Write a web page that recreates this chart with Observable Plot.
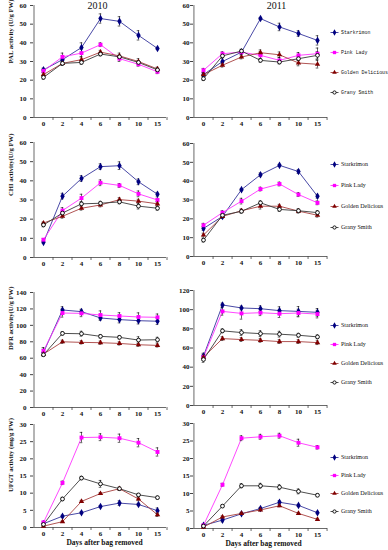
<!DOCTYPE html>
<html><head><meta charset="utf-8">
<script src="https://cdn.jsdelivr.net/npm/d3@7"></script>
<script src="https://cdn.jsdelivr.net/npm/@observablehq/plot@0.6"></script>
<style>
html,body{margin:0;padding:0;background:#fff;}
#chart{position:relative;width:388px;height:550px;overflow:hidden;background:#fff;}
.panel{position:absolute;}
</style></head><body><div id="chart"></div>
<script>
// ---- categories ----
const days = ["0","2","4","6","8","10","15"];
const cultivars = ["Starkrimon","Pink Lady","Golden Delicious","Grany Smith"];
const xTitleText = "Days after bag removed";

// ---- tick values ----
const palTicks = [0,10,20,30,40,50,60];
const chiTicks = [0,10,20,30,40,50,60];
const dfrTicks2010 = [0,20,40,60,80,100,120,140];
const dfrTicks2011 = [0,20,40,60,80,100,120];
const ufgtTicks = [0,5,10,15,20,25,30];

// ---- values (rows: Starkrimon, Pink Lady, Golden Delicious, Grany Smith) ----
const pal2010 = [
  [25.5, 31, 37.5, 53, 51.5, 44, 37],
  [25, 32.5, 34.5, 39, 31.5, 28.5, 24.5],
  [23, 29, 31, 35, 33, 30, 26],
  [21.5, 29, 29.5, 34, 32.5, 29.5, 25.5]];
const palErr2010 = [
  [1, 2, 2.5, 2.5, 2.5, 2.5, 0.5],
  [1, 2, 2, 1, 1.5, 1, 1],
  [1, 1, 1.5, 1, 1.5, 1.5, 1],
  [1, 1, 1, 1, 1, 1, 1]];
const pal2011 = [
  [23, 30, 35, 53, 48.5, 45, 41.3],
  [25.3, 34.2, 35, 33.3, 30.6, 33.3, 34.2],
  [23, 28, 32.4, 34.7, 33.6, 29.2, 28.5],
  [20.8, 33, 35.6, 30.6, 29.7, 31.5, 33.3]];
const palErr2011 = [
  [1, 1.5, 1, 0.5, 2, 1.5, 2.5],
  [1, 1, 1, 2, 1.5, 1.5, 3],
  [1, 1, 1, 1.5, 1.5, 1.5, 2],
  [1, 1, 1, 1, 1, 1, 2]];
const chi2010 = [
  [7.9, 32, 41.2, 47.4, 47.9, 39.5, 33],
  [9.3, 24.5, 31, 39, 37.6, 33.2, 30],
  [18, 21.5, 25.7, 27.4, 30.2, 29.4, 28],
  [17, 23.2, 28, 28.3, 29, 26.8, 25.7]];
const chiErr2010 = [
  [0.5, 1.5, 1.5, 1.5, 2, 1.5, 1],
  [0.5, 1.5, 2, 1.5, 1, 1.5, 1],
  [0.5, 1, 1, 1, 1, 1, 1],
  [1, 1, 1, 1, 1, 1.5, 1]];
const chi2011 = [
  [14.9, 21.3, 35.5, 43.4, 48.4, 45.1, 32],
  [16.6, 23.3, 29.4, 35.8, 38.5, 32.9, 28.5],
  [11.4, 21.3, 24.3, 26.7, 26.7, 24.1, 21.9],
  [8.7, 21.9, 24, 28.5, 25, 24.3, 23.3]];
const chiErr2011 = [
  [1, 1, 0.5, 1, 0.5, 1, 1],
  [1, 1, 1.5, 1, 1, 1, 1],
  [1, 1, 1, 1.5, 1, 1, 1],
  [1, 1, 1, 1, 1, 1, 1]];
const dfr2010 = [
  [67, 118.7, 116.7, 109, 107, 105.7, 105],
  [69, 115, 114.6, 112.6, 111.4, 110.2, 109.8],
  [65, 80, 79.3, 78.9, 78, 76.4, 75.6],
  [64.2, 90.2, 89.8, 86.6, 85.4, 82.1, 82.5]];
const dfrErr2010 = [
  [4, 4, 3, 3, 4, 4, 4],
  [4, 5, 4, 5, 4, 5, 4],
  [2, 2, 2, 2, 2, 2, 2],
  [2, 2, 3, 2, 2, 4, 3]];
const dfr2011 = [
  [51.6, 104.9, 101.8, 101, 99, 98.2, 97.2],
  [50.5, 98.2, 96.1, 96.8, 95.8, 96.5, 95.4],
  [50.5, 69.8, 68.8, 68, 66.7, 66.7, 65.6],
  [48, 77.9, 76.1, 75, 74.4, 73.3, 71.6]];
const dfrErr2011 = [
  [3, 2, 2, 3, 4, 5, 4],
  [3, 4, 6, 3, 4, 4, 4],
  [2, 2, 2, 2, 2, 2, 2],
  [3, 2, 3, 3, 3, 2, 2]];
const ufgt2010 = [
  [1.1, 3.3, 4.3, 6.1, 7.1, 6.7, 4.9],
  [1.5, 13, 26.2, 26.3, 26, 24.7, 22],
  [0.4, 1.7, 7.6, 9.9, 11.3, 8.3, 3.7],
  [0.9, 8.3, 14.4, 12.7, 11.3, 9.5, 8.7]];
const ufgtErr2010 = [
  [0.3, 0.3, 0.3, 0.3, 0.7, 0.3, 0.8],
  [0.3, 0.5, 1.5, 1, 1.2, 1.2, 1.2],
  [0.2, 0.2, 0.3, 0.3, 0.3, 0.5, 0.5],
  [0.3, 0.5, 0.5, 1, 0.5, 0.4, 0.4]];
const ufgt2011 = [
  [0.9, 2.4, 4.2, 5.7, 7.5, 6.6, 4.5],
  [0.9, 12.5, 25.8, 26.2, 26.5, 24.5, 23.2],
  [0.4, 3.3, 4.3, 5.3, 6.5, 4.3, 2.6],
  [0.7, 6.4, 12.2, 12.2, 11.8, 10.6, 9.5]];
const ufgtErr2011 = [
  [0.3, 0.5, 0.3, 0.3, 0.5, 0.3, 0.3],
  [0.3, 0.4, 0.7, 0.7, 0.7, 1, 0.5],
  [0.2, 0.3, 0.3, 0.3, 0.3, 0.3, 0.3],
  [0.3, 0.3, 0.6, 0.7, 0.7, 0.7, 0.4]];

// ---- styles ----
const lineColors = ["#34349c", "#ff33ff", "#a8413f", "#3a3a3a"];
const markFill = ["#000080", "#ff00ff", "#800000", "#ffffff"];
const markStroke = ["none", "none", "none", "#000000"];
const markSymbol = ["diamond", "square", "triangle", "circle"];
const markR = [2.3, 2.2, 2.0, 1.9];
const axisColor = "#444";
const serif = "'Liberation Serif','Times New Roman',serif";

const panels = [
  {values: pal2010, errors: palErr2010, col: 0, top: 5, bottom: 117, ticks: palTicks, yLabel: "PAL activity (U/g FW)", yLabelDy: 2, title: "2010", titleDx: -2.5},
  {values: pal2011, errors: palErr2011, col: 1, top: 5, bottom: 117, ticks: palTicks, title: "2011", titleDx: 16},
  {values: chi2010, errors: chiErr2010, col: 0, top: 142, bottom: 257, ticks: chiTicks, yLabel: "CHI activity(U/g FW)", yLabelDy: -4},
  {values: chi2011, errors: chiErr2011, col: 1, top: 143, bottom: 256, ticks: chiTicks},
  {values: dfr2010, errors: dfrErr2010, col: 0, top: 292, bottom: 407, ticks: dfrTicks2010, yLabel: "DFR activity(U/g FW)", yLabelDy: 0},
  {values: dfr2011, errors: dfrErr2011, col: 1, top: 290, bottom: 405, ticks: dfrTicks2011},
  {values: ufgt2010, errors: ufgtErr2010, col: 0, top: 424, bottom: 527, ticks: ufgtTicks, yLabel: "UFGT activity (mg/g FW)", yLabelDy: 16, xTitle: xTitleText, xTitleDx: 4.5},
  {values: ufgt2011, errors: ufgtErr2011, col: 1, top: 423, bottom: 528, ticks: ufgtTicks, xTitle: xTitleText, xTitleDx: 3}
];

const legends = [
  {top: 31, bottom: 93, font: "'Liberation Mono','DejaVu Sans Mono',monospace", size: "4.9px"},
  {top: 164, bottom: 227, font: serif, size: "6px"},
  {top: 324, bottom: 383, font: serif, size: "6px"},
  {top: 456, bottom: 511, font: serif, size: "6px"}
];

const chart = document.getElementById("chart");

function place(node, left, top, width) {
  const div = document.createElement("div");
  div.className = "panel";
  div.style.left = left + "px";
  div.style.top = top + "px";
  div.style.width = width + "px";
  div.appendChild(node);
  chart.appendChild(div);
}

function drawPanel(cfg) {
  const mL = 33, mR = 4, mT = Math.min(12, cfg.top), mB = 22;
  const left = cfg.col === 0 ? 0 : 160;
  const right = cfg.col === 0 ? 166 : 327;
  const width = right - left + mR;
  const height = mT + (cfg.bottom - cfg.top) + mB;
  const step = (right - left - mL) / days.length;
  const rows = [];
  cfg.values.forEach((vals, s) => vals.forEach((v, i) =>
    rows.push({cultivar: cultivars[s], day: days[i], v, e: cfg.errors[s][i]})));
  const yMax = cfg.ticks[cfg.ticks.length - 1];
  const marks = [
    Plot.ruleY([0], {stroke: axisColor, strokeWidth: 0.8}),
    Plot.ruleX(days.slice(0, 1), {x: d => d, dx: -step / 2, stroke: axisColor, strokeWidth: 0.8}),
    Plot.ruleX(days, {x: d => d, y1: 0, y2: 0, insetBottom: -3, dx: step / 2, stroke: axisColor, strokeWidth: 0.8}),
    Plot.axisY({ticks: cfg.ticks, tickSize: 3, tickPadding: cfg.col === 0 ? 4 : 1, stroke: axisColor, label: null, tickFormat: d => d}),
    Plot.axisX({tickSize: 0, tickPadding: 3.5, label: null}),
    Plot.line(rows, {x: "day", y: "v", z: "cultivar", stroke: "cultivar", strokeWidth: 0.9}),
    Plot.ruleX(rows, {x: "day", y1: d => d.v - d.e, y2: d => d.v + d.e, stroke: "#000", strokeWidth: 0.6}),
    Plot.ruleY(rows, {x1: "day", x2: "day", y: d => d.v + d.e, insetLeft: -1.3, insetRight: -1.3, stroke: "#000", strokeWidth: 0.6}),
    Plot.ruleY(rows, {x1: "day", x2: "day", y: d => d.v - d.e, insetLeft: -1.3, insetRight: -1.3, stroke: "#000", strokeWidth: 0.6}),
    ...cultivars.map((c, s) => Plot.dot(rows.filter(d => d.cultivar === c), {
      x: "day", y: "v", symbol: markSymbol[s], r: markR[s],
      fill: markFill[s], stroke: markStroke[s], strokeWidth: 0.9
    }))
  ];
  if (cfg.title) marks.push(Plot.text([cfg.title], {frameAnchor: "top", dx: cfg.titleDx, dy: 0.5, lineAnchor: "middle", fontSize: 10, fontWeight: "normal"}));
  if (cfg.yLabel) marks.push(Plot.text([cfg.yLabel], {frameAnchor: "left", rotate: -90, dx: -23, dy: cfg.yLabelDy, fontSize: 6.7, fontWeight: "bold"}));
  if (cfg.xTitle) marks.push(Plot.text([cfg.xTitle], {frameAnchor: "bottom", dx: cfg.xTitleDx, dy: 17.5, fontSize: 7.5, fontWeight: "bold"}));
  const svg = Plot.plot({
    width, height,
    marginLeft: mL, marginRight: mR, marginTop: mT, marginBottom: mB,
    x: {type: "point", domain: days, padding: 0.5},
    y: {domain: [0, yMax]},
    color: {domain: cultivars, range: lineColors},
    style: {fontFamily: serif, fontSize: "7px", fontWeight: "bold", color: "#111", background: "transparent", overflow: "visible"},
    marks
  });
  place(svg, left, cfg.top - mT, width);
}

function drawLegend(cfg) {
  const mT = 6, mB = 6, mL = 5, mR = 57;
  const width = 70;
  const svg = Plot.plot({
    width, height: cfg.bottom - cfg.top + mT + mB,
    marginLeft: mL, marginRight: mR, marginTop: mT, marginBottom: mB,
    x: {domain: [0, 1], axis: null},
    y: {type: "point", domain: cultivars, padding: 0, axis: null},
    color: {domain: cultivars, range: lineColors},
    style: {fontFamily: cfg.font, fontSize: cfg.size, color: "#111", background: "transparent", overflow: "visible"},
    marks: [
      Plot.link(cultivars, {x1: 0, x2: 1, y1: d => d, y2: d => d, stroke: d => d, strokeWidth: 0.9}),
      ...cultivars.map((c, s) => Plot.dot([c], {
        x: 0.5, y: d => d, symbol: markSymbol[s], r: markR[s] * 0.85,
        fill: markFill[s], stroke: markStroke[s], strokeWidth: 0.9
      })),
      Plot.text(cultivars, {x: 1, y: d => d, text: d => d, textAnchor: "start", dx: 2.5})
    ]
  });
  place(svg, 325, cfg.top - mT, width);
}

panels.forEach(drawPanel);
legends.forEach(drawLegend);
</script>
</body></html>
